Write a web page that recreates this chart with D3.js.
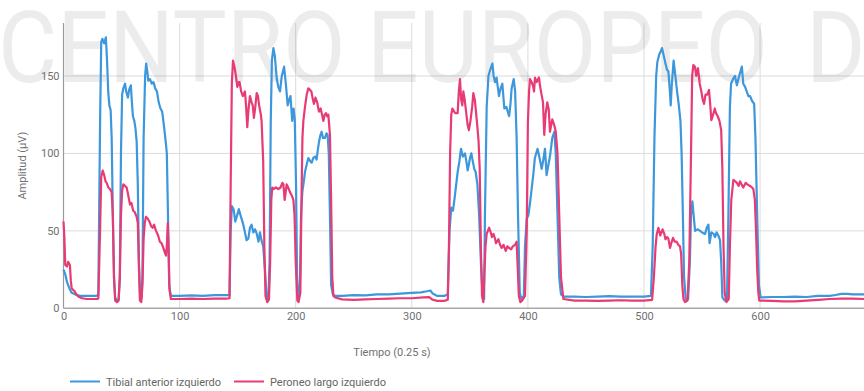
<!DOCTYPE html>
<html>
<head>
<meta charset="utf-8">
<script src="https://cdn.jsdelivr.net/npm/d3@7"></script>
<style>
  html, body { margin: 0; padding: 0; background: #fff; }
  svg { display: block; font-family: Roboto, "Noto Sans", Arial, sans-serif; }
</style>
</head>
<body>
<svg id="chart" width="864" height="391"></svg>
<script>
// EMG amplitude envelopes, one sample pair per [time index, amplitude µV]
const tibialAnterior = [
  [0,25],[1.5,22],[3,17],[5,13],[7,10],[10,9],[14,8],[20,8],[28,8],[30,8.5],
  [31.5,120],[32.5,172],[33.5,174],[35,171],[36.5,175],[37.5,160],[38.5,140],[39.5,131],[40.6,128],[41.5,110],[42.5,60],[43.5,20],[44.5,7],[46,5],[47.5,6],[48.5,20],
  [49.5,100],[50.5,138],[51.5,142],[53,145],[54,140],[55.5,136],[56.5,141],[58,144],[59,132],[59.8,124],[61,121],[62,116],[63,108],[64,80],[65,30],[66,8],[67,6],[68,20],
  [69,110],[70.3,150],[71.2,158],[72.2,153],[73,147],[74.5,148],[76,145],[77.5,146],[79,142],[80.5,140],[82,133],[83.5,129],[85,127],[86.5,118],[88,108],[89,100],[90,60],[91,15],[92.5,8],
  [100,8],[110,8.3],[120,8],[130,8.5],[140,8.5],[143,8.5],
  [144,50],[145,66],[146.5,64],[148,56],[149.5,60],[151,64],[152.5,60],[154.5,55],[156,50],[157.7,44],[159.2,45],[160.6,52],[162,54],[163.5,49],[165,51],[166.5,48],[168,43],[169.2,49],[170.5,44],[172,40],[173.5,25],[175,7],[176.5,5],[177.5,30],
  [178.5,120],[179.5,160],[180.8,168],[182,163],[183.7,148],[185,143],[186.5,140],[188,150],[190,156],[191.5,145],[193.1,131],[194.5,135],[195.5,137],[197,121],[198.2,129],[199.2,122],[200.3,80],[201.2,20],[202.3,6],[203.5,10],
  [204.6,60],[205.7,75],[207,82],[208,88],[209.5,93],[210.9,97],[212.5,95],[213.8,94],[215,97],[216.6,98],[218,96],[219,102],[220,107],[221,111],[222.3,114],[223.5,110],[225.2,110],[226.5,113],[227.5,112],[228.5,100],[229.5,60],[230.5,15],[232,9],[234,8],
  [240,8],[250,8.5],[260,8.3],[270,9],[280,9],[290,9.5],[300,10],[308,10.3],[313,11],[316,11.5],[318,9.5],[322,8],[328,8],[331,9],
  [332.5,50],[334,65],[335.5,63],[337,72],[339.5,88],[341,95],[342.4,103],[344,98],[345.8,100],[347,95],[348.1,89],[349.2,93],[350.1,97],[351.3,100],[352.5,95],[353.8,90],[355,88],[356.5,80],[358,60],[359.5,30],[361,8],[362.3,6],
  [363,60],[364.5,130],[366,150],[367.5,154],[369.4,158],[370.5,150],[371.7,146],[373,149],[375.1,137],[376.5,142],[378,145],[379.7,129],[381.5,130],[383.8,124],[385,132],[386,142],[387.8,148],[389,140],[390.3,110],[391.5,60],[393,10],[394.5,6],[396.5,8],
  [397.5,40],[399,58],[400.4,60],[402,69],[404.6,86],[406,97],[408.3,103],[409.5,99],[411.9,90],[413.3,96],[414.7,103],[416.1,86],[417.5,92],[419,98],[421,110],[422.8,114],[424,100],[425.5,60],[427,20],[428.5,9],[431,7.5],
  [440,7.5],[450,7.3],[460,7.5],[470,7.8],[480,7.5],[490,7.6],[500,7.5],[506,8],
  [507.5,40],[509,110],[510.5,150],[511.5,159],[513.2,164],[514.5,166],[515.5,168],[517,163],[518.5,158],[519.8,154],[521,153],[522.3,140],[523,131],[524,145],[525.5,160],[527,150],[528.5,140],[530,131],[531.4,121],[532.4,100],[533.5,60],[534.5,20],[536,6],[538,6],
  [539.5,30],[540.5,60],[541.7,69],[543,58],[544,50],[546,51],[548.3,50],[550,49],[552.6,48],[554,52],[555.5,54],[556.5,42],[558,49],[560,48],[561.2,46],[562.5,49],[564,47],[565.5,44],[566.5,30],[567.5,7],[569.5,5],[571.5,6],
  [572.7,60],[574,130],[575,145],[577,148.5],[578.4,150],[580,144],[582.2,150.6],[584.3,156],[585.5,145],[587.1,143],[589.9,137],[591.4,137],[593,134],[594.9,132],[596,110],[597.5,60],[599,15],[600.5,7],
  [610,7.3],[620,7.3],[630,7.5],[640,7.3],[650,8],[660,8],[665,8.6],[670,9.3],[675,9.3],[680,9],[685,9],[690,9]
];

const peroneoLargo = [
  [0,56],[0.8,45],[1.5,28],[3,27],[4,30],[5.5,28],[6.3,18],[7,13],[8,12],[9.6,11],[11,9],[13,7.5],[16,6.5],[20,6],[25,6],[29,6],[30,6.5],
  [31.5,50],[32.5,85],[33.8,89],[35,86],[36.2,82],[37.2,81],[38.6,78],[40,77],[41.5,75],[42.5,60],[43.5,20],[44.5,5],[46,4],[47.5,5],[48.5,20],
  [49.5,60],[50.5,76],[51.5,80],[53,79],[54.4,78],[55.5,74],[57.3,67],[58.5,68],[60,63],[61.5,62],[63,59],[64,55],[65,25],[65.8,5],[67,4],[68,15],
  [69,45],[70,55],[71,59],[72.5,58],[74,56],[75.5,53],[76.8,52],[78,54],[79.7,50],[81.5,47],[83,43],[84.5,42],[86,39],[87.3,36],[88.3,34],[89,40],[89.8,55],[90.5,40],[91.3,12],[92.5,6],
  [100,6],[110,6.2],[120,6],[130,6.3],[140,6.3],[143,6.5],
  [144,80],[145,145],[146,160],[147.5,155],[148.5,150],[149.7,143],[151,146],[151.7,146],[153,140],[154.5,137],[156.3,140],[157.3,130],[158.3,117],[159.3,128],[160.6,137],[162,133],[163,131],[164,123],[165.2,130],[166.4,139],[167.5,137],[168.5,131],[170,125],[170.6,121],[172,95],[173,40],[174,8],[175.5,4],[177,6],[178,30],
  [179,70],[179.8,78],[181,77],[183,78],[185,77],[187,78],[188.5,81],[189.4,80],[190.5,70],[191.4,75],[192.2,80],[193.5,78],[195.1,75],[196.5,73],[198,70],[199,60],[200,30],[201.4,5],[202.5,4],[204,10],
  [205,70],[205.8,110],[206.6,121],[208,130],[209.5,138],[210.9,142],[212.3,141],[213.5,140],[214.5,136],[215.7,132],[217,136],[218.5,133],[220,127],[221.5,129],[223,124],[223.8,121],[225,125],[226.1,126],[227.2,124],[228.1,125],[229.5,112],[230.5,70],[231.5,20],[232.5,8],[234,7],
  [240,5.8],[250,5.5],[260,5.8],[270,6],[280,6.2],[290,6.5],[300,6.5],[310,7],[315,7.2],[318,5.5],[322,4.8],[328,4.8],[331,5.5],
  [332,40],[333,100],[334,125],[335,129],[336.5,127],[337.5,126],[339.5,126],[340.5,140],[341.5,148],[342.5,135],[343.5,131],[344.4,140],[345.5,135],[347.2,124],[348.2,118],[349.2,115],[350.5,121],[352,130],[353,139],[354.4,134],[355.5,125],[356.4,118],[357.5,108],[358.5,90],[359.5,40],[360.5,8],[361.6,4],
  [362.4,20],[363.5,40],[364.5,48],[366.6,52],[368,49],[369,46],[370.3,48],[371.7,45],[372.5,42],[374.6,44.6],[376,41],[377.4,39],[379,41],[380.9,37],[382.3,40],[383.8,39],[385.5,38],[387,40],[388.9,41],[390.3,43],[391.3,25],[392.2,8],[393.5,4],[395,5],[397.5,8],
  [399,50],[400,120],[401,140],[401.8,148],[403.3,146],[404.6,143],[405.3,140],[406.1,149],[407.5,146],[409.5,149],[410.8,142],[412,137],[413,133],[414.1,112],[415.2,125],[416.7,133],[418,128],[419,114],[420,118],[421,122],[422.8,118],[424,114],[425.5,100],[427,60],[428.5,20],[430.6,6],
  [440,5],[450,5],[460,4.8],[470,5],[480,5.2],[490,5],[500,5],[507,5.5],
  [508.5,20],[510,40],[511,48],[512.4,52],[514,47],[515,49],[516,51],[517.5,48],[518.5,44.6],[520,46],[521,45],[522.4,39],[523.5,42],[525,45.5],[526.5,43],[528.1,43],[529.5,41],[531,40],[532,35],[533,15],[534,6],[535.3,4],[537.5,5],
  [539,30],[540.5,100],[541.5,150],[542.5,157],[543.9,156],[545,150],[546.5,155],[548,145],[549.4,140],[550.5,135],[551.7,132],[553,138],[554.5,138],[556,141],[557,132],[558,121.5],[559.5,125],[561,129],[562,126],[563.5,124],[565,121],[566.5,115],[567.5,90],[568.5,40],[569.5,10],[571,4],[573,6],
  [574,40],[575.2,70],[577,83],[578.5,82],[580,81],[581.5,79],[582.7,82],[584,80],[585.5,78],[587.6,81],[589,80],[591.3,79],[593,78],[594.2,77],[595.5,70],[596.5,50],[597.5,25],[598.5,10],[599.3,5],[601,5],
  [610,4.8],[620,4.5],[630,4.5],[640,5],[650,5.5],[660,6],[670,6.2],[680,6.2],[690,6]
];

const seriesNames = ["Tibial anterior izquierdo", "Peroneo largo izquierdo"];
const seriesColors = ["#3d97dc", "#e83a73"];
const xTicks = [0, 100, 200, 300, 400, 500, 600];
const yTicks = [0, 50, 100, 150];
const xTitle = "Tiempo (0.25 s)";
const yTitle = "Amplitud (µV)";
const watermarkWords = ["CENTRO", "EUROPEO", "D"];
const watermarkWordX = [-2, 367, 806];

const svg = d3.select("#chart");
const plot = { left: 63.5, right: 864, top: 23, bottom: 308.3 };

const x = d3.scaleLinear().domain([0, 689.5]).range([plot.left, plot.right]);
const y = d3.scaleLinear().domain([0, 184.2]).range([plot.bottom, plot.top]);

// gridlines
const grid = svg.append("g");
grid.selectAll("line.v").data(xTicks.filter(d => d > 0)).join("line")
  .attr("x1", d => x(d)).attr("x2", d => x(d))
  .attr("y1", plot.top).attr("y2", plot.bottom)
  .attr("stroke", "#dcdcdc").attr("stroke-width", 1);
grid.selectAll("line.h").data(yTicks.filter(d => d > 0)).join("line")
  .attr("x1", plot.left).attr("x2", plot.right)
  .attr("y1", d => y(d)).attr("y2", d => y(d))
  .attr("stroke", "#dcdcdc").attr("stroke-width", 1);

// background lettering, slightly condensed
const sx = 0.91;
svg.append("text")
  .attr("transform", `translate(0,82) scale(${sx},1)`)
  .attr("font-size", 100).attr("font-weight", 400)
  .attr("fill", "#000").attr("fill-opacity", 0.075)
  .selectAll("tspan").data(watermarkWords).join("tspan")
  .attr("x", (d, i) => watermarkWordX[i] / sx)
  .text(d => d);

// axes lines
svg.append("line").attr("x1", plot.left).attr("x2", plot.left)
  .attr("y1", plot.top).attr("y2", plot.bottom)
  .attr("stroke", "#9a9a9a").attr("stroke-width", 1.2);
svg.append("line").attr("x1", plot.left).attr("x2", plot.right)
  .attr("y1", plot.bottom).attr("y2", plot.bottom)
  .attr("stroke", "#a8a8a8").attr("stroke-width", 1.5);

// tick labels via d3 axes
const yAxis = svg.append("g").attr("transform", `translate(${plot.left},0)`)
  .call(d3.axisLeft(y).tickValues(yTicks).tickSize(0).tickPadding(4));
const xAxis = svg.append("g").attr("transform", `translate(0,${plot.bottom})`)
  .call(d3.axisBottom(x).tickValues(xTicks).tickSize(0).tickPadding(4));
[yAxis, xAxis].forEach(a => {
  a.select(".domain").remove();
  a.selectAll("text").attr("font-family", "Roboto, sans-serif")
    .attr("font-size", 11).attr("fill", "#707070");
});

// axis titles
svg.append("text")
  .attr("transform", `translate(26,${(plot.top + plot.bottom) / 2}) rotate(-90)`)
  .attr("text-anchor", "middle").attr("font-size", 11).attr("fill", "#707070")
  .text(yTitle);
svg.append("text")
  .attr("x", 392).attr("y", 356)
  .attr("text-anchor", "middle").attr("font-size", 11).attr("fill", "#707070")
  .text(xTitle);

// series lines
const line = d3.line().x(d => x(d[0])).y(d => y(d[1])).curve(d3.curveLinear);
[tibialAnterior, peroneoLargo].forEach((s, i) => {
  svg.append("path").datum(s)
    .attr("fill", "none").attr("stroke", seriesColors[i])
    .attr("stroke-width", 2.2).attr("stroke-linejoin", "round")
    .attr("d", line);
});

// legend
const legendX = [70, 234];
const legend = svg.append("g");
seriesNames.forEach((name, i) => {
  legend.append("line")
    .attr("x1", legendX[i]).attr("x2", legendX[i] + 30)
    .attr("y1", 381.5).attr("y2", 381.5)
    .attr("stroke", seriesColors[i]).attr("stroke-width", 2);
  legend.append("text")
    .attr("x", legendX[i] + 36).attr("y", 385.5)
    .attr("font-size", 11).attr("fill", "#666")
    .text(name);
});
</script>
</body>
</html>
